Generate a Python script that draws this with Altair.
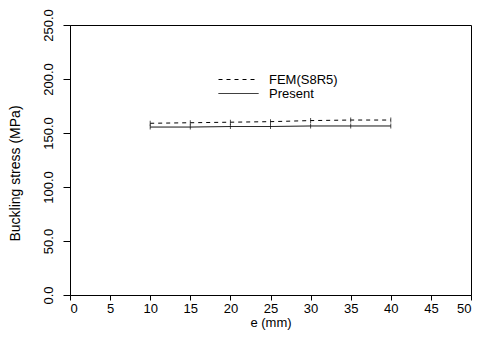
import altair as alt
import pandas as pd

e_vals = [10, 15, 20, 25, 30, 35, 40]
fem = [159.0, 159.5, 160.0, 160.5, 161.5, 162.0, 162.0]
present = [155.5, 155.5, 156.0, 156.0, 156.5, 156.5, 156.5]
series_names = ["FEM(S8R5)", "Present"]
dashes = [[4, 4], [1, 0]]
legend_y = [34, 48]

rows = []
for x, v in zip(e_vals, fem):
    rows.append({"e": x, "stress": v, "series": series_names[0]})
for x, v in zip(e_vals, present):
    rows.append({"e": x, "stress": v, "series": series_names[1]})
df = pd.DataFrame(rows)

FONT = "Liberation Sans"
FS = 13

xs = alt.Scale(domain=[0, 50], nice=False)
ys = alt.Scale(domain=[0, 250], nice=False)

x_enc = alt.X("e:Q", scale=xs, axis=alt.Axis(
    title="e  (mm)", values=list(range(0, 55, 5)), format="d",
    tickSize=5, labelPadding=2, titlePadding=1, grid=False,
    domainColor="black", tickColor="black", labelColor="black", titleColor="black",
    labelFontSize=FS, titleFontSize=FS, titleFontWeight="normal", labelFont=FONT, titleFont=FONT))
y_enc = alt.Y("stress:Q", scale=ys, axis=alt.Axis(
    title="Buckling stress  (MPa)", values=list(range(0, 300, 50)), format=".1f",
    tickSize=7, labelAngle=-90, labelAlign="center", labelBaseline="bottom", labelPadding=8,
    titlePadding=20, titleY=148, grid=False,
    domainColor="black", tickColor="black", labelColor="black", titleColor="black",
    labelFontSize=FS, titleFontSize=14, titleFontWeight="normal", labelFont=FONT, titleFont=FONT))

layers = []
for i, name in enumerate(series_names):
    layer = alt.Chart(df).transform_filter(alt.datum.series == name).mark_line(
        color="black", strokeWidth=1).encode(
        x=x_enc, y=y_enc,
        strokeDash=alt.StrokeDash("series:N",
            scale=alt.Scale(domain=[name], range=[dashes[i]]),
            legend=alt.Legend(title=None, orient="none", legendX=148, legendY=legend_y[i],
                              symbolType="stroke", symbolSize=1600, symbolStrokeWidth=1,
                              symbolStrokeColor="black", labelFontSize=FS, labelFont=FONT,
                              labelColor="black", labelOffset=10)),
    )
    layers.append(layer)

ticks = alt.Chart(df).mark_tick(color="black", orient="vertical", size=5, thickness=1).encode(
    x=alt.X("e:Q", scale=xs), y=alt.Y("stress:Q", scale=ys))
layers.append(ticks)

chart = alt.layer(*layers).resolve_scale(strokeDash="independent").properties(
    width=401, height=270,
    autosize=alt.AutoSizeParams(type="none"),
    padding={"left": 62, "top": 17, "right": 2, "bottom": 38},
    background="white",
).configure_view(stroke="black", strokeWidth=1)

chart.save("out.html", embed_options={"renderer": "svg", "actions": False})
